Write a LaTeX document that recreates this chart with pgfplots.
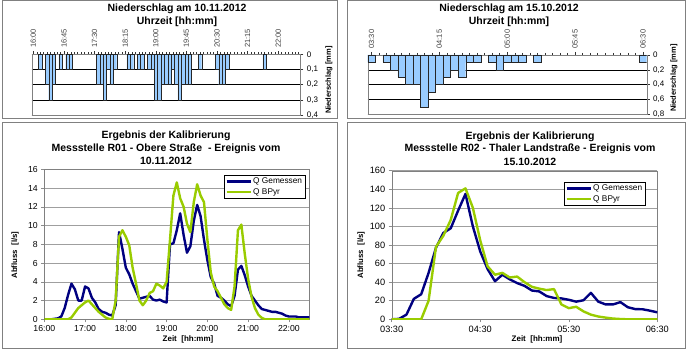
\documentclass[border=0pt]{standalone}
\usepackage{pgfplots}
\pgfplotsset{compat=1.18}
\usepackage{fontspec}
\setmainfont{Liberation Sans}
\definecolor{qgem}{RGB}{0,0,128}
\definecolor{qbpyr}{RGB}{153,204,0}
\definecolor{barfill}{RGB}{153,204,255}

\pgfplotstableread{
m v
10 0.1
20 0.2
25 0.3
30 0.2
40 0.1
50 0.1
55 0.1
95 0.2
100 0.2
105 0.3
110 0.1
115 0.2
120 0.1
140 0.1
145 0.1
155 0.1
160 0.1
170 0.1
175 0.1
180 0.3
185 0.3
190 0.2
195 0.2
200 0.2
205 0.1
210 0.2
215 0.3
220 0.2
225 0.2
230 0.2
245 0.1
270 0.1
275 0.2
280 0.2
285 0.1
340 0.1
}\rainA

\pgfplotstableread{
m v
0 0.1
10 0.1
15 0.2
20 0.3
25 0.4
30 0.4
35 0.7
40 0.5
45 0.4
50 0.3
55 0.2
60 0.3
65 0.1
70 0.1
80 0.1
85 0.2
90 0.1
95 0.1
100 0.1
110 0.1
180 0.1
}\rainB

\pgfplotstableread{
m g b
0 0 0
5 0 0
10 0 0
15 0.05 0
20 0.1 0
25 0.3 0
30 1.2 0
35 2.6 0
40 3.8 0.2
45 3.2 0.7
50 2.0 1.2
55 2.0 1.5
60 3.5 1.8
65 3.3 2.0
70 2.3 1.6
75 1.8 1.2
80 1.1 0.8
85 0.8 0.5
90 0.7 0.2
95 0.5 0.05
100 0.4 0.0
105 1.5 2.0
110 9.3 8.8
115 7.5 9.5
120 5.5 8.8
125 4.8 7.9
130 3.8 5.5
135 3.0 3.8
140 2.2 2.0
145 2.3 1.5
150 2.4 2.0
155 2.5 2.8
160 2.1 3.0
165 2.0 3.8
170 2.1 3.6
175 1.9 3.3
180 1.8 4.0
185 8.0 8.5
190 8.1 13.2
195 9.5 14.6
200 11.3 12.9
205 9.0 12.0
210 7.1 10.2
215 7.8 9.3
220 10.5 12.5
225 12.2 14.4
230 11.0 13.2
235 8.5 12.5
240 6.3 8.5
245 4.5 5.0
250 3.8 3.5
255 2.5 3.0
260 2.3 2.3
265 2.0 1.6
270 1.6 1.2
275 1.4 1.0
280 2.5 3.5
285 5.3 9.5
290 5.7 10.1
295 4.7 7.0
300 3.5 4.3
305 2.5 2.4
310 2.0 1.2
315 1.5 0.5
320 1.1 0.15
325 1.0 0
330 0.9 0
335 0.8 0
340 0.8 0
345 0.7 0
350 0.6 0
355 0.4 0
360 0.3 0
365 0.3 0
370 0.3 0
375 0.2 0
380 0.2 0
385 0.2 0
390 0.2 0
}\flowA

\pgfplotstableread{
m g b
0 0 0
5 0.5 0
10 5 0
15 22 0
20 27 0
25 50 20
30 77 78
35 93 90
40 98 107
45 117 136
50 135 141
55 100 120
60 73 85
65 54 57
70 41 48
75 48 50
80 43 45
85 39 46
90 36 40
95 31 35
100 30 33
105 25 31.5
110 23 32.5
115 22.5 16
120 21 12
125 19 13.5
130 20.5 8.5
135 28.5 5
140 19 3
145 16 1.8
150 16 0.8
155 18.5 0.3
160 13 0
165 11 0
170 10.8 0
175 9.3 0
180 7.5 0
}\flowB

\pgfplotsset{
  every axis/.append style={/pgf/number format/assume math mode=true},
  rainstyle/.style={
    scale only axis, anchor=south west,
    ybar, bar width=5,
    y dir=reverse, ymin=0, xmin=-2.5,
    xtick pos=right, xticklabel pos=right,
    ytick pos=right, yticklabel pos=right,
    tick align=outside,
    major tick length=3pt, minor tick length=2pt,
    ymajorgrids, major grid style={black, line width=0.5pt},
    axis line style={gray},
    tick style={black!80, line width=0.4pt},
    xticklabel style={rotate=90, anchor=west, font=\fontsize{7.5}{8}\selectfont, text=black!75},
    yticklabel style={font=\fontsize{8}{9}\selectfont, /pgf/number format/.cd, use comma, fixed, precision=1},
  },
  flowstyle/.style={
    scale only axis, anchor=south west,
    xmin=0, ymin=0,
    xtick pos=left, ytick pos=left,
    tick align=outside, major tick length=3pt,
    ymajorgrids, major grid style={gray!75, line width=0.5pt},
    axis line style={gray},
    tick style={gray!90, line width=0.5pt},
    legend cell align=left,
    legend image code/.code={\draw[#1] (0pt,0pt) -- (24pt,0pt);},
    legend style={draw=black, line width=0.5pt, fill=white, anchor=north east,
      font=\fontsize{8.3}{9.8}\selectfont, inner sep=1.2pt, row sep=0pt,
      nodes={inner sep=1.5pt}},
  },
}

\newcommand{\ttl}{\bfseries\fontsize{10.5}{12}\selectfont}

\begin{document}
\begin{tikzpicture}[x=1pt,y=1pt]
\useasboundingbox (0,0) rectangle (687,351);
\draw[gray, line width=0.8pt] (2.5,233) rectangle (337,350.5);
\draw[gray, line width=0.8pt] (347,233) rectangle (685,350.5);
\draw[gray, line width=0.8pt] (2.5,3) rectangle (337,228.5);
\draw[gray, line width=0.8pt] (347,3) rectangle (685,228.5);

% ---------- top left rain ----------
\begin{axis}[rainstyle, at={(31.7pt,236pt)}, width=268.6pt, height=60.7pt,
  xmax=392.5, ymax=0.4, ytick={0,0.1,0.2,0.3,0.4},
  xtick={0,45,...,360},
  xticklabels={16:00,16:45,17:30,18:15,19:00,19:45,20:30,21:15,22:00},
  minor xtick={0,5,...,390}]
\addplot[fill=barfill, draw=black!85, line width=0.4pt] table[x=m,y=v] {\rainA};
\end{axis}
\node[font=\ttl] at (177,342) {Niederschlag am 10.11.2012};
\node[font=\ttl] at (177,329) {Uhrzeit [hh:mm]};
\node[rotate=90, font=\bfseries\fontsize{7.5}{9}\selectfont] at (329,271) {Niederschlag [mm]};

% ---------- top right rain ----------
\begin{axis}[rainstyle, at={(367.7pt,236.7pt)}, width=279pt, height=59.3pt,
  xmax=182.5, ymax=0.8, ytick={0,0.2,0.4,0.6,0.8},
  xtick={0,45,...,180},
  xticklabels={03:30,04:15,05:00,05:45,06:30},
  minor xtick={0,5,...,180}]
\addplot[fill=barfill, draw=black!85, line width=0.4pt] table[x=m,y=v] {\rainB};
\end{axis}
\node[font=\ttl] at (509,342) {Niederschlag am 15.10.2012};
\node[font=\ttl] at (509,329) {Uhrzeit [hh:mm]};
\node[rotate=90, font=\bfseries\fontsize{7.5}{9}\selectfont] at (674,273) {Niederschlag [mm]};

% ---------- bottom left flow ----------
\begin{axis}[flowstyle, at={(44.3pt,31.7pt)}, width=265pt, height=150pt,
  xmax=390, ymax=16, ytick={0,2,...,16},
  tick label style={font=\fontsize{8.7}{10}\selectfont},
  xtick={0,60,...,360},
  xticklabels={16:00,17:00,18:00,19:00,20:00,21:00,22:00},
  legend style={at={(0.984,0.962)}}]
\addplot[qgem, line width=2.4pt, line join=round] table[x=m,y=g] {\flowA};
\addlegendentry{Q Gemessen}
\addplot[qbpyr, line width=2.4pt, line join=round] table[x=m,y=b] {\flowA};
\addlegendentry{Q BPyr}
\end{axis}
\node[font=\ttl] at (166,215) {Ergebnis der Kalibrierung};
\node[font=\ttl] at (166,202.5) {Messstelle R01 - Obere Straße\ \ - Ereignis vom};
\node[font=\ttl] at (166,190) {10.11.2012};
\node[rotate=90, font=\bfseries\fontsize{7.8}{9}\selectfont] at (15,96) {Abfluss\ \ [l/s]};
\node[font=\bfseries\fontsize{8}{9}\selectfont] at (188,12) {Zeit\ \ [hh:mm]};

% ---------- bottom right flow ----------
\begin{axis}[flowstyle, at={(391.7pt,31.7pt)}, width=265.6pt, height=148.6pt,
  xmax=180, ymax=160, ytick={0,20,...,160},
  tick label style={font=\fontsize{9.2}{10}\selectfont},
  xtick={0,60,120,180},
  xticklabels={03:30,04:30,05:30,06:30},
  legend style={at={(0.954,0.924)}}]
\addplot[qgem, line width=2.4pt, line join=round] table[x=m,y=g] {\flowB};
\addlegendentry{Q Gemessen}
\addplot[qbpyr, line width=2.4pt, line join=round] table[x=m,y=b] {\flowB};
\addlegendentry{Q BPyr}
\end{axis}
\node[font=\ttl] at (530,214) {Ergebnis der Kalibrierung};
\node[font=\ttl] at (530,202) {Messstelle R02 - Thaler Landstraße - Ereignis vom};
\node[font=\ttl] at (530,189) {15.10.2012};
\node[rotate=90, font=\bfseries\fontsize{7.8}{9}\selectfont] at (361,96) {Abfluss\ \ [l/s]};
\node[font=\bfseries\fontsize{8}{9}\selectfont] at (537,12) {Zeit\ \ [hh:mm]};
\end{tikzpicture}
\end{document}
